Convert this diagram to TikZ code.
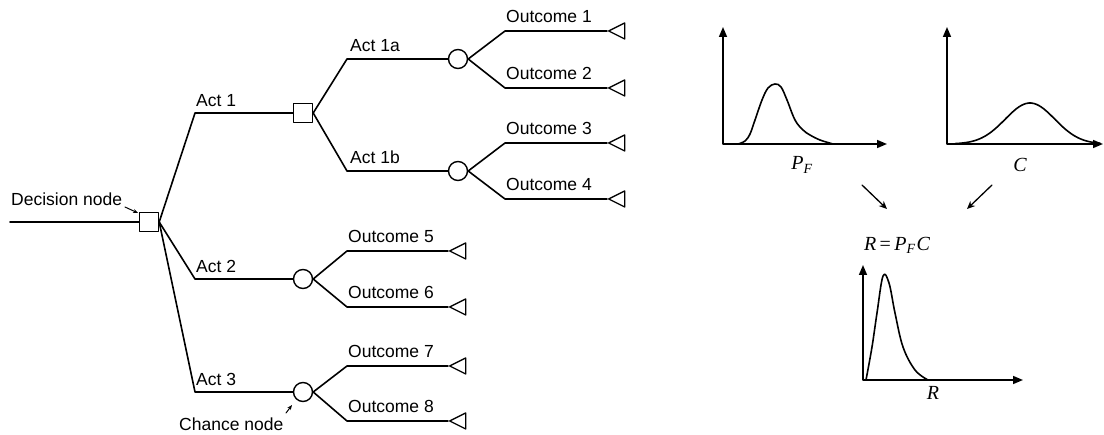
\documentclass[tikz,border=0pt]{standalone}
\usepackage{fontspec}
\setmainfont{Liberation Sans}
\newfontfamily\timesfont{Liberation Serif}
\usetikzlibrary{shapes.geometric,arrows.meta,positioning}

\tikzset{
  decision/.style={draw, rectangle, minimum size=19pt, inner sep=0pt, line width=1.4pt},
  chance/.style={draw, circle, minimum size=19pt, inner sep=0pt, line width=1.4pt},
  terminal/.style={draw, isosceles triangle, shape border rotate=180, isosceles triangle stretches,
    minimum width=16pt, minimum height=16pt, inner sep=0pt, line width=1.3pt, anchor=apex},
  branch/.style={line width=1.6pt},
  lbl/.style={font=\fontsize{17.5}{20}\selectfont, inner sep=0pt},
  var/.style={font=\fontsize{20}{24}\selectfont\timesfont\itshape, inner sep=0pt},
  axis/.style={line width=1.6pt, {Triangle[length=10pt,width=8pt]}-{Triangle[length=10pt,width=8pt]}},
  pdf/.style={line width=1.6pt, smooth, tension=0.6},
  pointer/.style={line width=1pt, -{Stealth[length=5pt,width=4pt]}}
}

\begin{document}
\begin{tikzpicture}[x=1pt, y=-1pt, line cap=round, line join=round]
  \useasboundingbox (0,0) rectangle (1104,435);

  % decision tree
  \coordinate (in) at (10,222);
  \node[decision] (dec) at (149,222) {};
  \node[decision] (act1) at (303,113) {};
  \node[chance] (ch1a) at (458,59) {};
  \node[chance] (ch1b) at (458,171) {};
  \node[chance] (ch2) at (303,279) {};
  \node[chance] (ch3) at (303,392) {};

  \node[terminal] (out1) at (607,31) {};
  \node[terminal] (out2) at (607,88) {};
  \node[terminal] (out3) at (607,143) {};
  \node[terminal] (out4) at (607,199) {};
  \node[terminal] (out5) at (448,251) {};
  \node[terminal] (out6) at (448,307) {};
  \node[terminal] (out7) at (448,366) {};
  \node[terminal] (out8) at (448,421) {};

  % kinks of the branches
  \coordinate (ka1) at (195,113);
  \coordinate (ka2) at (195,279);
  \coordinate (ka3) at (195,392);
  \coordinate (ka1a) at (347,59);
  \coordinate (ka1b) at (347,171);
  \coordinate (ko1) at (505,31);
  \coordinate (ko2) at (505,88);
  \coordinate (ko3) at (505,143);
  \coordinate (ko4) at (505,199);
  \coordinate (ko5) at (347,251);
  \coordinate (ko6) at (347,307);
  \coordinate (ko7) at (347,366);
  \coordinate (ko8) at (347,421);

  \draw[branch] (in) -- (dec.west);
  \draw[branch] (dec.east) -- (ka1) -- (act1.west);
  \draw[branch] (dec.east) -- (ka2) -- (ch2.west);
  \draw[branch] (dec.east) -- (ka3) -- (ch3.west);
  \draw[branch] (act1.east) -- (ka1a) -- (ch1a.west);
  \draw[branch] (act1.east) -- (ka1b) -- (ch1b.west);
  \draw[branch] (ch1a.east) -- (ko1) -- (out1.apex);
  \draw[branch] (ch1a.east) -- (ko2) -- (out2.apex);
  \draw[branch] (ch1b.east) -- (ko3) -- (out3.apex);
  \draw[branch] (ch1b.east) -- (ko4) -- (out4.apex);
  \draw[branch] (ch2.east) -- (ko5) -- (out5.apex);
  \draw[branch] (ch2.east) -- (ko6) -- (out6.apex);
  \draw[branch] (ch3.east) -- (ko7) -- (out7.apex);
  \draw[branch] (ch3.east) -- (ko8) -- (out8.apex);

  \node[lbl, above right=6pt and 1pt of ka1] {Act 1};
  \node[lbl, above right=6pt and 1pt of ka2] {Act 2};
  \node[lbl, above right=6pt and 1pt of ka3] {Act 3};
  \node[lbl, above right=7pt and 3pt of ka1a] {Act 1a};
  \node[lbl, above right=7pt and 3pt of ka1b] {Act 1b};
  \node[lbl, above right=8pt and 1pt of ko1] {Outcome 1};
  \node[lbl, above right=8pt and 1pt of ko2] {Outcome 2};
  \node[lbl, above right=8pt and 1pt of ko3] {Outcome 3};
  \node[lbl, above right=8pt and 1pt of ko4] {Outcome 4};
  \node[lbl, above right=8pt and 1pt of ko5] {Outcome 5};
  \node[lbl, above right=8pt and 1pt of ko6] {Outcome 6};
  \node[lbl, above right=8pt and 1pt of ko7] {Outcome 7};
  \node[lbl, above right=8pt and 1pt of ko8] {Outcome 8};

  \node[lbl, anchor=south west] (declbl) at (11,206) {Decision node};
  \node[lbl, anchor=south west] (chlbl) at (179,431) {Chance node};
  \coordinate (decptr) at (125,207);
  \coordinate (chptr) at (286,413);
  \draw[pointer] (decptr) -- (138,213);
  \draw[pointer] (chptr) -- (292,405);

  % distribution of P_F
  \draw[axis] (723,27) -- (723,144) -- (887,144);
  \draw[pdf] plot coordinates {(738,144) (745,141) (750,134) (755,120) (762,100)
    (768,88) (775,84) (781,87) (787,100) (795,120) (803,130) (810,135) (820,140) (833,144)};
  \node[var] (pf) at (802,165) {P\textsubscript{F}};

  % distribution of C
  \draw[axis] (947,27) -- (947,144) -- (1103,144);
  \draw[line width=1.6pt] plot[domain=955:1100, samples=60]
    (\x, {144-41*exp(-((\x-1030)/35)^2)});
  \node[var] (c) at (1020,165) {C};

  % product R
  \coordinate (pfend) at (862,185);
  \coordinate (cend) at (992,185);
  \draw[pointer, line width=1.3pt, -{Stealth[length=8pt,width=7pt]}] (pfend) -- (887,209);
  \draw[pointer, line width=1.3pt, -{Stealth[length=8pt,width=7pt]}] (cend) -- (967,209);
  \node[var] (prod) at (897,245) {R\,{\upshape =}\,P\textsubscript{F}\kern1pt C};

  \draw[axis] (863,265) -- (863,380) -- (1023,380);
  \draw[pdf] plot coordinates {(866,380) (872,347) (877,313) (883,276) (889,283)
    (895,313) (903,347) (915,370) (928,380)};
  \node[var] (r) at (933,393) {R};
\end{tikzpicture}
\end{document}
